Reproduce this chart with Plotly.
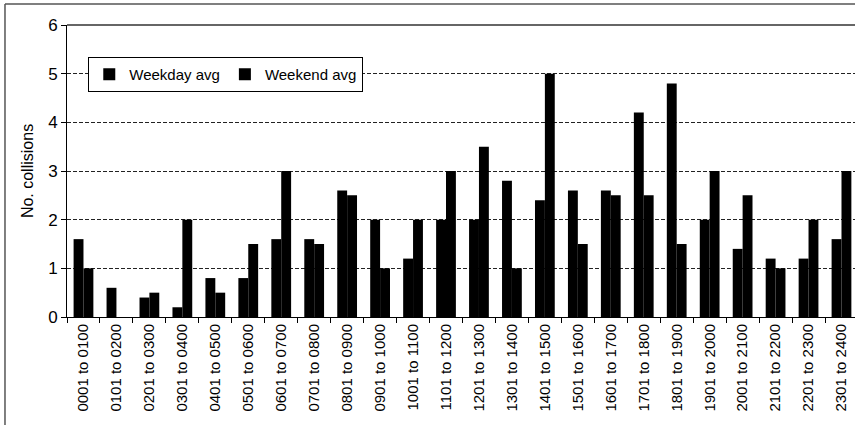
import plotly.graph_objects as go

# hourly bands and average collisions per band
hours = [
    "0001 to 0100", "0101 to 0200", "0201 to 0300", "0301 to 0400",
    "0401 to 0500", "0501 to 0600", "0601 to 0700", "0701 to 0800",
    "0801 to 0900", "0901 to 1000", "1001 to 1100", "1101 to 1200",
    "1201 to 1300", "1301 to 1400", "1401 to 1500", "1501 to 1600",
    "1601 to 1700", "1701 to 1800", "1801 to 1900", "1901 to 2000",
    "2001 to 2100", "2101 to 2200", "2201 to 2300", "2301 to 2400",
]
weekday_avg = [1.6, 0.6, 0.4, 0.2, 0.8, 0.8, 1.6, 1.6, 2.6, 2.0, 1.2, 2.0,
               2.0, 2.8, 2.4, 2.6, 2.6, 4.2, 4.8, 2.0, 1.4, 1.2, 1.2, 1.6]
weekend_avg = [1.0, 0.0, 0.5, 2.0, 0.5, 1.5, 3.0, 1.5, 2.5, 1.0, 2.0, 3.0,
               3.5, 1.0, 5.0, 1.5, 2.5, 2.5, 1.5, 3.0, 2.5, 1.0, 2.0, 3.0]
y_ticks = [0, 1, 2, 3, 4, 5, 6]

_FONT = "Arial, 'Liberation Sans', sans-serif"

fig = go.Figure()
fig.add_trace(go.Bar(x=hours, y=weekday_avg, name="Weekday avg",
                     marker={"color": "#000000", "line": {"width": 0}}))
fig.add_trace(go.Bar(x=hours, y=weekend_avg, name="Weekend avg",
                     marker={"color": "#000000", "line": {"width": 0}}))

fig.update_layout(
    width=855,
    height=425,
    paper_bgcolor="white",
    plot_bgcolor="white",
    font={"family": _FONT, "color": "black", "size": 15},
    barmode="group",
    bargap=0.4,
    bargroupgap=0,
    margin={"l": 67, "r": 0, "t": 25, "b": 108},
    legend={
        "x": 0.027, "y": 0.89, "xanchor": "left", "yanchor": "top",
        "orientation": "h",
        "bgcolor": "white", "bordercolor": "black", "borderwidth": 1,
        "font": {"size": 15},
        "itemwidth": 30,
        "tracegroupgap": 0,
    },
    xaxis={
        "type": "category",
        "range": [-0.5, 23.41],
        "tickangle": -90,
        "tickson": "boundaries",
        "ticks": "outside",
        "ticklen": 5,
        "tickcolor": "black",
        "showline": True,
        "linecolor": "black",
        "linewidth": 1,
        "showgrid": False,
        "tickfont": {"size": 15},
    },
    yaxis={
        "range": [0, 6],
        "tickvals": y_ticks,
        "ticks": "outside",
        "ticklen": 5,
        "tickcolor": "black",
        "showline": True,
        "linecolor": "black",
        "linewidth": 1,
        "showgrid": True,
        "gridcolor": "#222222",
        "griddash": "4px,2px",
        "gridwidth": 1,
        "zeroline": False,
        "tickfont": {"size": 17},
        "title": {"text": "No. collisions", "font": {"size": 16}, "standoff": 10},
    },
    shapes=[
        # outer chart frame: only left and top edges are inside the crop
        {"type": "line", "xref": "paper", "yref": "paper",
         "x0": -0.0787, "x1": -0.0787, "y0": -0.5, "y1": 1.072,
         "line": {"color": "#555555", "width": 1.5}},
        {"type": "line", "xref": "paper", "yref": "paper",
         "x0": -0.0787, "x1": 1.2, "y0": 1.072, "y1": 1.072,
         "line": {"color": "#555555", "width": 1.5}},
        # plot area top edge
        {"type": "line", "xref": "paper", "yref": "paper",
         "x0": 0, "x1": 1, "y0": 1, "y1": 1,
         "line": {"color": "#333333", "width": 1.5}},
    ],
)

fig.write_html(
    "out.html",
    config={"displayModeBar": False},
    post_script=(
        "document.body.style.margin='0';"
        "document.body.style.overflow='hidden';"
        "document.documentElement.style.overflow='hidden';"
    ),
)
